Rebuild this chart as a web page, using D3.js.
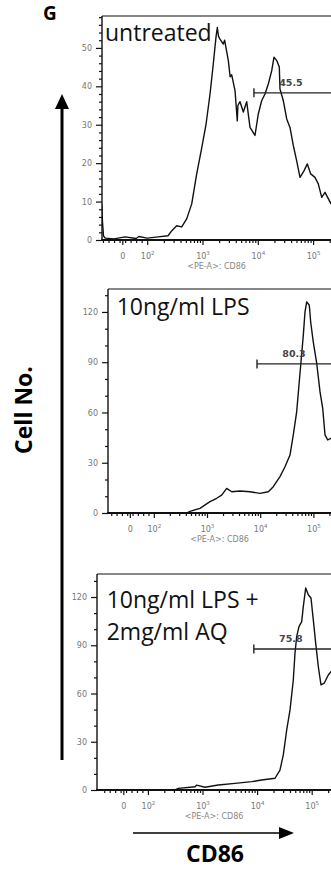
<!DOCTYPE html>
<html>
<head>
<meta charset="utf-8">
<script src="https://cdn.jsdelivr.net/npm/d3@7"></script>
<style>
  body { margin: 0; background: #fff; }
  svg { display: block; }
</style>
</head>
<body>
<script>
// x values are in display decades of the biexponential CD86 axis (3 = 10^3)
var xTickVals = [1.55, 2, 3, 4, 5];
var xTickLabels = ["0", "10^2", "10^3", "10^4", "10^5"];
var xAxisTitle = "<PE-A>: CD86";

var untreatedX = [1.16, 1.18, 1.19, 1.21, 1.24, 1.40, 1.60, 1.80, 1.85, 2.00, 2.20, 2.376, 2.45, 2.533, 2.624, 2.714, 2.805, 2.895, 2.986, 3.063, 3.136, 3.195, 3.244, 3.268, 3.29, 3.316, 3.376, 3.40, 3.467, 3.50, 3.528, 3.588, 3.629, 3.64, 3.678, 3.738, 3.799, 3.859, 3.949, 4.009, 4.071, 4.130, 4.190, 4.251, 4.293, 4.342, 4.389, 4.401, 4.461, 4.523, 4.582, 4.642, 4.703, 4.763, 4.835, 4.895, 4.957, 5.034, 5.094, 5.156, 5.215, 5.324, 5.42];
var untreatedY = [10, 9, 5, 1, 0.5, 0.3, 0.8, 0.4, 0.9, 0.5, 0.8, 1.1, 2.5, 3.7, 3.4, 5.5, 9.4, 17.2, 24, 30, 38, 45.8, 52.8, 55.3, 53, 52.3, 51, 52, 46.7, 42.5, 43, 38.9, 31, 35, 36, 33.3, 36, 29.3, 27.2, 32.8, 36.3, 38, 40.6, 44, 47.6, 46.7, 45, 39.3, 36.3, 31.5, 29.3, 24.6, 20.6, 16.3, 18, 19.8, 17.2, 16.3, 14.6, 11.1, 12.4, 9.4, 8];

var lpsX = [1.14, 1.5, 2.0, 2.4, 2.618, 2.68, 2.868, 3.056, 3.182, 3.276, 3.370, 3.464, 3.620, 3.808, 3.996, 4.152, 4.246, 4.372, 4.466, 4.560, 4.622, 4.686, 4.729, 4.767, 4.810, 4.842, 4.874, 4.923, 4.949, 4.998, 5.062, 5.124, 5.175, 5.218, 5.269, 5.331, 5.42];
var lpsY = [0, 0, 0, 0, 0, 1, 2.8, 6.8, 8.8, 10.7, 14.7, 12.7, 13.1, 12.7, 11.7, 12.7, 15.7, 21.7, 27.6, 34.6, 46.6, 60.5, 76.4, 90.3, 106, 120, 126, 124, 114, 102, 89.4, 72.4, 62.5, 46.6, 43.6, 44.6, 40];

var lpsAqX = [1.07, 1.5, 2.0, 2.496, 2.557, 2.863, 2.89, 3.046, 3.289, 3.595, 3.901, 4.084, 4.328, 4.419, 4.480, 4.542, 4.603, 4.663, 4.694, 4.725, 4.767, 4.817, 4.846, 4.890, 4.938, 4.987, 5.029, 5.073, 5.121, 5.170, 5.231, 5.304, 5.353, 5.42];
var lpsAqY = [0, 0, 0, 0, 1, 2, 3, 1.7, 3.1, 4.1, 5.2, 6.2, 7.3, 12.4, 21.8, 37.3, 49.8, 68.4, 85, 95.4, 101.6, 104.7, 114, 125.6, 121.4, 119.4, 105.9, 91.3, 76.8, 65.4, 66.5, 71.5, 73.6, 75];

var titles = [["untreated"], ["10ng/ml LPS"], ["10ng/ml LPS +", "2mg/ml AQ"]];
var gateStart = [3.93, 3.94, 3.94];
var gateLevel = [38.3, 89, 87.7];
var gateLabels = ["45.5", "80.3", "75.8"];
var yTicks1 = [0, 10, 20, 30, 40, 50];
var yTicks2 = [0, 30, 60, 90, 120];

var W = 331, H = 870;
var svg = d3.select("body").append("svg")
    .attr("width", W)
    .attr("height", H);

// panel layout
var panels = [
    {xs: untreatedX, ys: untreatedY, left: 102, top: 16, bottom: 240, x1000: 202.5, dec: 55.3, yMax: 58.3, ticks: yTicks1, minorStep: 2, tx: 105, ty: 40.7},
    {xs: lpsX, ys: lpsY, left: 108, top: 289, bottom: 513, x1000: 207, dec: 53.2, yMax: 133.7, ticks: yTicks2, minorStep: 10, tx: 116.7, ty: 315},
    {xs: lpsAqX, ys: lpsAqY, left: 97, top: 574, bottom: 790, x1000: 202.5, dec: 54.6, yMax: 134.3, ticks: yTicks2, minorStep: 10, tx: 106.7, ty: 608.3}
];

var xMinor = d3.range(1.2, 2.0, 0.1).filter(function(v){ return Math.abs(v - 1.55) > 0.04; });
[2, 3, 4].forEach(function(k){
    for (var m = 2; m <= 9; m++) xMinor.push(k + Math.log10(m));
});
xMinor.push(5 + Math.log10(2));

var drawPanel = function(p, i){
    var dMin = 3 - (p.x1000 - p.left) / p.dec;
    var dMax = 5.42;
    var x = d3.scaleLinear().domain([dMin, dMax]).range([p.left, p.x1000 + (dMax - 3) * p.dec]);
    var y = d3.scaleLinear().domain([0, p.yMax]).range([p.bottom, p.top]);
    var right = x(dMax);
    var g = svg.append("g");

    var clipId = "clip" + i;
    g.append("clipPath").attr("id", clipId)
      .append("rect")
	.attr("x", p.left).attr("y", p.top)
	.attr("width", right - p.left).attr("height", p.bottom - p.top);

    // frame
    g.append("line").attr("x1", p.left).attr("x2", right).attr("y1", p.top).attr("y2", p.top)
	.attr("stroke", "#111").attr("stroke-width", 1.2);
    g.append("line").attr("x1", p.left).attr("x2", p.left).attr("y1", p.top).attr("y2", p.bottom)
	.attr("stroke", "#111").attr("stroke-width", 1.4);

    // y axis
    var minorVals = d3.range(0, p.yMax, p.minorStep).filter(function(v){ return p.ticks.indexOf(v) < 0; });
    var gyMinor = g.append("g").attr("transform", "translate(" + p.left + ",0)")
	.call(d3.axisLeft(y).tickValues(minorVals).tickSize(3).tickFormat(""));
    var gy = g.append("g").attr("transform", "translate(" + p.left + ",0)")
	.call(d3.axisLeft(y).tickValues(p.ticks).tickSize(6).tickPadding(4));
    gy.selectAll("text").attr("font-family", "DejaVu Sans").attr("font-size", 8).attr("fill", "#777");

    // x axis
    var gxMinor = g.append("g").attr("transform", "translate(0," + p.bottom + ")")
	.call(d3.axisBottom(x).tickValues(xMinor).tickSize(3).tickFormat(""));
    var gx = g.append("g").attr("transform", "translate(0," + p.bottom + ")")
	.call(d3.axisBottom(x).tickValues(xTickVals).tickSize(5).tickPadding(8));
    gx.selectAll(".tick text").each(function(d, j){
	var t = d3.select(this).text(null)
	    .attr("font-family", "DejaVu Sans").attr("font-size", 8).attr("fill", "#777");
	var parts = xTickLabels[j].split("^");
	t.append("tspan").text(parts[0]);
	if (parts[1]) t.append("tspan").attr("font-size", 5.5).attr("dy", -4).text(parts[1]);
    });
    [gyMinor, gy, gxMinor, gx].forEach(function(a){
	a.select(".domain").remove();
	a.selectAll("line").attr("stroke", "#111").attr("stroke-width", 1.2);
    });
    g.append("line").attr("x1", p.left - 1).attr("x2", right).attr("y1", p.bottom).attr("y2", p.bottom)
	.attr("stroke", "#111").attr("stroke-width", 2);

    g.append("text")
	.attr("x", (p.left + 255) / 2 + 38).attr("y", p.bottom + 29)
	.attr("text-anchor", "middle")
	.attr("font-family", "DejaVu Sans").attr("font-size", 8).attr("fill", "#888")
	.text(xAxisTitle);

    // histogram
    var pts = p.xs.map(function(v, j){ return [v, p.ys[j]]; });
    g.append("path")
	.datum(pts)
	.attr("clip-path", "url(#" + clipId + ")")
	.attr("fill", "none")
	.attr("stroke", "#111")
	.attr("stroke-width", 1.4)
	.attr("stroke-linejoin", "round")
	.attr("d", d3.line().x(function(d){ return x(d[0]); }).y(function(d){ return y(d[1]); }));

    // gate
    var gy0 = y(gateLevel[i]), gx0 = x(gateStart[i]);
    g.append("line").attr("x1", gx0).attr("x2", right).attr("y1", gy0).attr("y2", gy0)
	.attr("stroke", "#222").attr("stroke-width", 1.4);
    g.append("line").attr("x1", gx0).attr("x2", gx0).attr("y1", gy0 - 4.5).attr("y2", gy0 + 4.5)
	.attr("stroke", "#222").attr("stroke-width", 1.4);
    g.append("text")
	.attr("x", gx0 + 37).attr("y", gy0 - 7)
	.attr("text-anchor", "middle")
	.attr("font-family", "DejaVu Sans").attr("font-weight", "bold").attr("font-size", 9.5)
	.attr("fill", "#444")
	.text(gateLabels[i]);

    // sample title
    titles[i].forEach(function(line, j){
	g.append("text")
	    .attr("x", p.tx).attr("y", p.ty + j * 32)
	    .attr("font-family", "Open Sans").attr("font-size", 23).attr("fill", "#111")
	    .text(line);
    });
};

panels.forEach(drawPanel);

// panel letter
svg.append("text").attr("x", 43).attr("y", 20)
    .attr("font-family", "Open Sans").attr("font-weight", "bold").attr("font-size", 19)
    .text("G");

// Cell No. arrow
svg.append("line").attr("x1", 62).attr("x2", 62).attr("y1", 106).attr("y2", 760)
    .attr("stroke", "#000").attr("stroke-width", 3);
svg.append("path").attr("d", "M62,94 L55,109 L69,109 Z").attr("fill", "#000");
svg.append("text")
    .attr("transform", "translate(32,410) rotate(-90)")
    .attr("text-anchor", "middle")
    .attr("font-family", "Open Sans").attr("font-weight", "bold").attr("font-size", 23)
    .text("Cell No.");

// CD86 arrow
svg.append("line").attr("x1", 133).attr("x2", 281).attr("y1", 833).attr("y2", 833)
    .attr("stroke", "#000").attr("stroke-width", 1.5);
svg.append("path").attr("d", "M294,833 L279,827 L279,839 Z").attr("fill", "#000");
svg.append("text").attr("x", 215).attr("y", 862)
    .attr("text-anchor", "middle")
    .attr("font-family", "Open Sans").attr("font-weight", "bold").attr("font-size", 23)
    .text("CD86");
</script>
</body>
</html>
